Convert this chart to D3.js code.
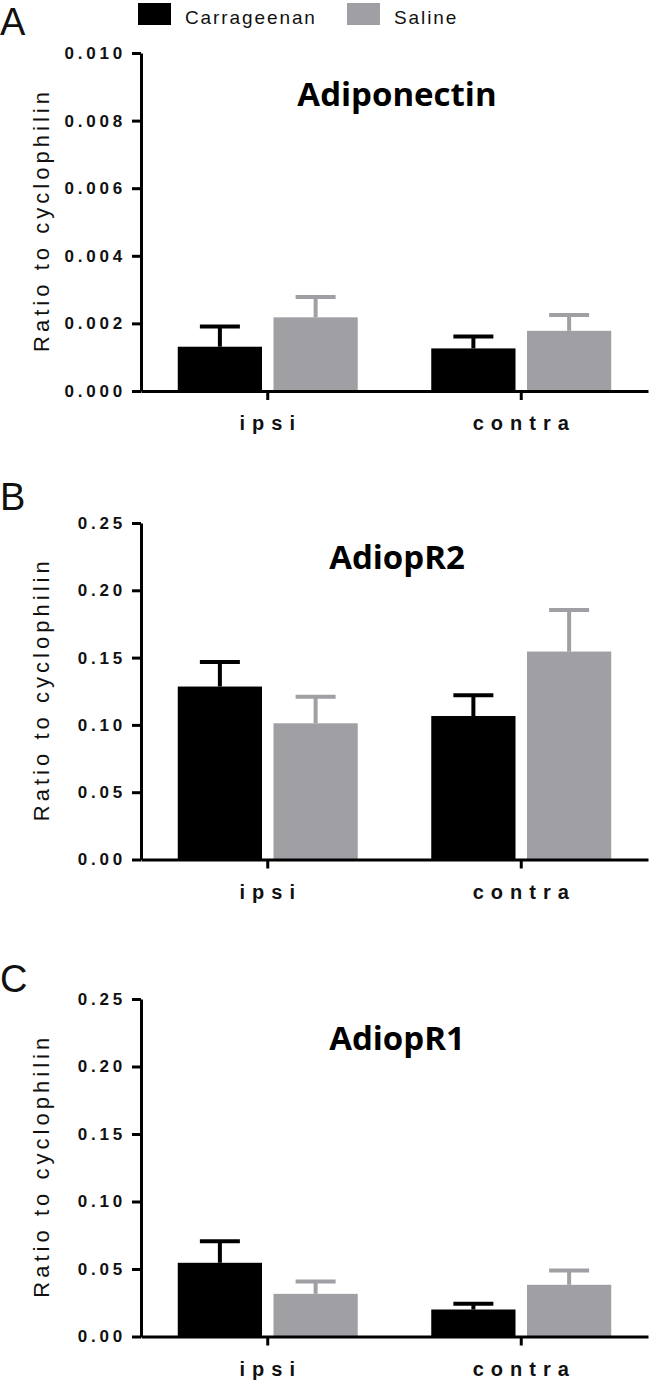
<!DOCTYPE html>
<html>
<head>
<meta charset="utf-8">
<script src="https://cdn.jsdelivr.net/npm/d3@7"></script>
<style>
  body { margin: 0; background: #fff; }
  svg { display: block; }
</style>
</head>
<body>
<svg id="chart"></svg>
<script>
// Categories and series
const groups = ['ipsi', 'contra'];
const seriesNames = ['Carrageenan', 'Saline'];

// Adiponectin (mean, upper SEM) per group
const adiponectinCarr = [0.00131, 0.00126];
const adiponectinCarrErr = [0.0006, 0.00035];
const adiponectinSal = [0.00218, 0.00178];
const adiponectinSalErr = [0.0006, 0.00047];
const adiponectinTicks = [0, 0.002, 0.004, 0.006, 0.008, 0.010];

// AdiopR2
const adiopR2Carr = [0.1285, 0.1066];
const adiopR2CarrErr = [0.0183, 0.0154];
const adiopR2Sal = [0.1012, 0.1545];
const adiopR2SalErr = [0.0198, 0.0308];

// AdiopR1
const adiopR1Carr = [0.0546, 0.0200];
const adiopR1CarrErr = [0.016, 0.0042];
const adiopR1Sal = [0.0316, 0.0383];
const adiopR1SalErr = [0.0091, 0.0106];

const receptorTicks = [0, 0.05, 0.10, 0.15, 0.20, 0.25];

const panels = [
  { letter: 'A', title: 'Adiponectin', max: 0.010, ticks: adiponectinTicks, fmt: '.3f',
    values: [adiponectinCarr, adiponectinSal], errors: [adiponectinCarrErr, adiponectinSalErr] },
  { letter: 'B', title: 'AdiopR2', max: 0.25, ticks: receptorTicks, fmt: '.2f',
    values: [adiopR2Carr, adiopR2Sal], errors: [adiopR2CarrErr, adiopR2SalErr] },
  { letter: 'C', title: 'AdiopR1', max: 0.25, ticks: receptorTicks, fmt: '.2f',
    values: [adiopR1Carr, adiopR1Sal], errors: [adiopR1CarrErr, adiopR1SalErr] }
];

// layout (pixel positions of each panel's plot area)
const layout = [
  { top: 53, bottom: 391, letterY: 35, titleY: 106 },
  { top: 523, bottom: 859.5, letterY: 510, titleY: 569 },
  { top: 999, bottom: 1336.5, letterY: 992, titleY: 1050 }
];

const width = 651, height = 1385;
const axisLeft = 141, axisRight = 648;
const colors = { Carrageenan: '#000000', Saline: '#a0a0a4' };

const svg = d3.select('#chart').attr('width', width).attr('height', height);

const x0 = d3.scaleBand().domain(groups).range([axisLeft, axisRight])
  .paddingInner(0.29).paddingOuter(0.145);
const x1 = d3.scaleBand().domain(seriesNames).range([0, x0.bandwidth()])
  .paddingInner(0.12).paddingOuter(0);

// Legend
const legend = svg.append('g');
const legendX = [138, 347];
seriesNames.forEach((s, i) => {
  legend.append('rect')
    .attr('x', legendX[i]).attr('y', 3)
    .attr('width', 33).attr('height', 22)
    .attr('fill', colors[s]);
  legend.append('text')
    .attr('x', legendX[i] + 47).attr('y', 24)
    .style('font-family', '"Liberation Sans", Arial, sans-serif')
    .style('font-size', '19px')
    .style('letter-spacing', '1.9px')
    .style('fill', '#111')
    .text(s);
});

panels.forEach((p, pi) => {
  const L = layout[pi];
  const y = d3.scaleLinear().domain([0, p.max]).range([L.bottom, L.top]);
  const g = svg.append('g');

  // Panel letter
  g.append('text')
    .attr('x', 0).attr('y', L.letterY)
    .style('font-family', '"Liberation Sans", Arial, sans-serif')
    .style('font-size', '38px')
    .style('fill', '#111')
    .text(p.letter);

  // Title
  g.append('text')
    .attr('x', 397).attr('y', L.titleY)
    .attr('text-anchor', 'middle')
    .style('font-family', '"Open Sans", "Noto Sans", sans-serif')
    .style('font-weight', 'bold')
    .style('font-size', '33px')
    .style('fill', '#000')
    .text(p.title);

  // Y label
  g.append('text')
    .attr('transform', `translate(49, ${(L.top + L.bottom) / 2}) rotate(-90)`)
    .attr('text-anchor', 'middle')
    .attr('textLength', 260)
    .attr('lengthAdjust', 'spacing')
    .style('font-family', '"Liberation Sans", Arial, sans-serif')
    .style('font-size', '22px')
    .style('fill', '#111')
    .text('Ratio to cyclophilin');

  // Bars
  seriesNames.forEach((s, si) => {
    const vals = p.values[si];
    const errs = p.errors[si];
    const bars = g.append('g');
    groups.forEach((grp, gi) => {
      const bx = x0(grp) + x1(s);
      const bw = x1.bandwidth();
      const cx = bx + bw / 2;
      bars.append('rect')
        .attr('x', bx).attr('y', y(vals[gi]))
        .attr('width', bw).attr('height', y(0) - y(vals[gi]))
        .attr('fill', colors[s]);
      // upper error bar
      const top = y(vals[gi] + errs[gi]);
      bars.append('line')
        .attr('x1', cx).attr('x2', cx)
        .attr('y1', y(vals[gi])).attr('y2', top)
        .attr('stroke', colors[s]).attr('stroke-width', 4);
      bars.append('line')
        .attr('x1', cx - 20).attr('x2', cx + 20)
        .attr('y1', top).attr('y2', top)
        .attr('stroke', colors[s]).attr('stroke-width', 4);
    });
  });

  // Y axis
  const yAxis = g.append('g')
    .attr('transform', `translate(${axisLeft},0)`)
    .call(d3.axisLeft(y).tickValues(p.ticks).tickFormat(d3.format(p.fmt))
      .tickSize(9).tickSizeOuter(0).tickPadding(6));
  yAxis.select('.domain').attr('stroke', '#000').attr('stroke-width', 3);
  yAxis.selectAll('.tick line').attr('stroke', '#000').attr('stroke-width', 3);
  yAxis.selectAll('.tick text')
    .style('font-family', '"Liberation Sans", Arial, sans-serif')
    .style('font-weight', 'bold')
    .style('font-size', '17px')
    .style('letter-spacing', '3.8px')
    .style('fill', '#111');

  // X axis
  const xAxis = g.append('g')
    .attr('transform', `translate(0,${L.bottom})`)
    .call(d3.axisBottom(x0).tickSize(9).tickSizeOuter(0).tickPadding(16));
  xAxis.select('.domain').attr('stroke', '#000').attr('stroke-width', 3);
  xAxis.selectAll('.tick line').attr('stroke', '#000').attr('stroke-width', 3);
  xAxis.selectAll('.tick text')
    .attr('dx', '3px')
    .style('font-family', '"Liberation Sans", Arial, sans-serif')
    .style('font-weight', 'bold')
    .style('font-size', '20px')
    .style('letter-spacing', '7px')
    .style('fill', '#111');
});
</script>
</body>
</html>
